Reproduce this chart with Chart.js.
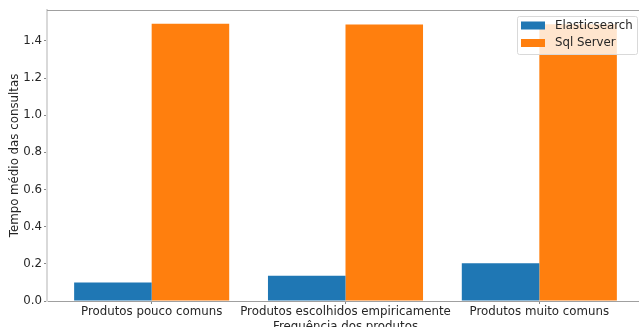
<!DOCTYPE html>
<html>
<head>
<meta charset="utf-8">
<script src="https://cdn.jsdelivr.net/npm/chart.js@4.4.0/dist/chart.umd.min.js"></script>
<style>
html, body { margin: 0; padding: 0; overflow: hidden; background: #fff; }
#wrap { width: 645px; height: 334px; }
</style>
</head>
<body>
<div id="wrap"><canvas id="chart" width="645" height="334"></canvas></div>
<script>
// data
const categories = ['Produtos pouco comuns', 'Produtos escolhidos empiricamente', 'Produtos muito comuns'];
const elasticValues = [0.100, 0.136, 0.203];
const sqlValues = [1.493, 1.488, 1.490];
const seriesNames = ['Elasticsearch', 'Sql Server'];
const seriesColors = ['#1f77b4', '#ff7f0e'];
const yTicks = [0.0, 0.2, 0.4, 0.6, 0.8, 1.0, 1.2, 1.4];

const font = { family: 'DejaVu Sans', size: 11.8 };

// top spine of the frame
const topSpine = {
    id: 'topSpine',
    afterDraw(chart) {
        const { ctx, chartArea } = chart;
        ctx.save();
        ctx.strokeStyle = '#a0a0a0';
        ctx.lineWidth = 1;
        ctx.beginPath();
        ctx.moveTo(chartArea.left, chartArea.top + 0.5);
        ctx.lineTo(chart.width, chartArea.top + 0.5);
        ctx.stroke();
        ctx.restore();
    }
};

// legend box in the upper right corner, over the bars
const boxLegend = {
    id: 'boxLegend',
    afterDatasetsDraw(chart) {
        const { ctx, chartArea } = chart;
        const w = 120, h = 38;
        const x = chartArea.right - 7 - w;
        const y = chartArea.top + 6;
        ctx.save();
        ctx.fillStyle = 'rgba(255,255,255,0.8)';
        ctx.strokeStyle = '#d9d9d9';
        ctx.lineWidth = 1;
        ctx.beginPath();
        ctx.roundRect(x + 0.5, y + 0.5, w, h, 2);
        ctx.fill();
        ctx.stroke();
        ctx.font = font.size + 'px "' + font.family + '"';
        ctx.textBaseline = 'middle';
        chart.data.datasets.forEach((ds, i) => {
            const cy = y + 9.5 + i * 17.5;
            ctx.fillStyle = ds.backgroundColor;
            ctx.fillRect(x + 4, cy - 4, 24, 8);
            ctx.fillStyle = '#262626';
            ctx.fillText(ds.label, x + 38, cy);
        });
        ctx.restore();
    }
};

new Chart(document.getElementById('chart'), {
    type: 'bar',
    data: {
        datasets: [
            { label: seriesNames[0], data: elasticValues.map((v, i) => ({ x: i, y: v })), backgroundColor: seriesColors[0] },
            { label: seriesNames[1], data: sqlValues.map((v, i) => ({ x: i, y: v })), backgroundColor: seriesColors[1] }
        ]
    },
    options: {
        responsive: false,
        animation: false,
        devicePixelRatio: 1,
        categoryPercentage: 0.8,
        barPercentage: 1.0,
        layout: { padding: { top: 10, left: 8, right: 1, bottom: 0 } },
        plugins: {
            legend: { display: false },
            tooltip: { enabled: false }
        },
        scales: {
            x: {
                type: 'linear',
                min: -0.54,
                max: 2.54,
                offset: false,
                afterBuildTicks: scale => { scale.ticks = categories.map((c, i) => ({ value: i })); },
                afterFit: scale => { scale.height = 33; },
                ticks: {
                    callback: v => categories[v],
                    color: '#262626',
                    font: font,
                    padding: 1,
                    maxRotation: 0,
                    autoSkip: false
                },
                grid: { display: true, offset: false, drawOnChartArea: false, tickLength: 3, color: '#888' },
                border: { display: true, color: '#a0a0a0', width: 1 },
                title: { display: true, text: 'Frequência dos produtos', color: '#262626', font: font, padding: 0 }
            },
            y: {
                min: 0,
                max: 1.5665,
                afterBuildTicks: scale => { scale.ticks = yTicks.map(v => ({ value: v })); },
                afterFit: scale => { scale.width = 39; },
                ticks: {
                    callback: v => v.toFixed(1),
                    color: '#262626',
                    font: font,
                    padding: 2
                },
                grid: { display: true, drawOnChartArea: false, tickLength: 3, color: '#888' },
                border: { display: true, color: '#d9d9d9', width: 2 },
                title: { display: true, text: 'Tempo médio das consultas', color: '#262626', font: font, padding: 0 }
            }
        }
    },
    plugins: [topSpine, boxLegend]
});
</script>
</body>
</html>
